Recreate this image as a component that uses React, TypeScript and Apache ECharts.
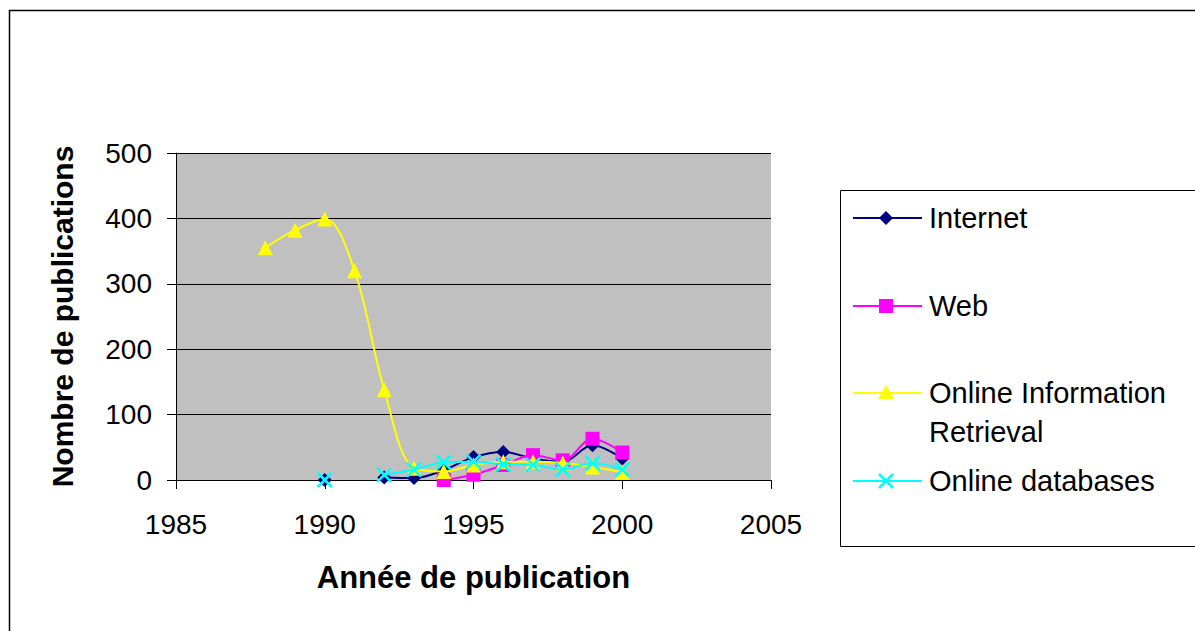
import React, { useEffect, useRef } from "react";
import * as echarts from "echarts";

const years = [1988, 1989, 1990, 1991, 1992, 1993, 1994, 1995, 1996, 1997, 1998, 1999, 2000];
const internet = [null, null, 0, null, 4, 3, 15, 35, 43, 33, 28, 53, 33];
const web = [null, null, null, null, null, null, 0, 8, 23, 38, 30, 63, 42];
const oir = [355, 382, 399, 320, 138, 18, 13, 23, 28, 28, 26, 20, 12];
const onlineDb = [null, null, 0, null, 8, 16, 27, 28, 24, 23, 16, 26, 16];
const seriesNames = ["Internet", "Web", "Online Information\nRetrieval", "Online databases"];
const seriesColors = ["#000080", "#FF00FF", "#FFFF00", "#00FFFF"];
const xTicks = [1985, 1990, 1995, 2000, 2005];
const yTicks = [0, 100, 200, 300, 400, 500];

const FONT = "'Liberation Sans', Arial, sans-serif";

function pairs(vals: (number | null)[]) {
  return years.map((y, i) => [y, vals[i] === null ? null : vals[i]]);
}

export default function App() {
  const ref = useRef<HTMLDivElement>(null);
  useEffect(() => {
    const chart = echarts.init(ref.current!, null, { renderer: "svg" });
    const crossPath = "path://M0,0 L10,10 M10,0 L0,10";
    const symbols = ["diamond", "rect", "triangle", crossPath];
    const sizes = [14, 14, 15, 14];
    const datas = [internet, web, oir, onlineDb];

    const series: any[] = datas.map((d, i) => ({
      type: "line",
      name: seriesNames[i],
      data: pairs(d),
      smooth: 0.35,
      connectNulls: false,
      symbol: symbols[i],
      symbolSize: sizes[i],
      showAllSymbol: true,
      lineStyle: { color: seriesColors[i], width: 2 },
      itemStyle:
        i === 3
          ? { color: "none", borderColor: seriesColors[i], borderWidth: 2.5 }
          : { color: seriesColors[i], borderColor: seriesColors[i], borderWidth: 0 },
      z: 2 + i,
    }));

    // legend graphics
    const lx0 = 853, lx1 = 922, sx = 886, tx = 929;
    const rows = [218, 306, 393, 481];
    const legendEls: any[] = [
      {
        type: "rect",
        shape: { x: 840.5, y: 190.5, width: 400, height: 356 },
        style: { fill: "#fff", stroke: "#000", lineWidth: 1 },
        z: 10,
      },
    ];
    rows.forEach((ry, i) => {
      legendEls.push({
        type: "line",
        shape: { x1: lx0, y1: ry, x2: lx1, y2: ry },
        style: { stroke: seriesColors[i], lineWidth: 2 },
        z: 11,
      });
      if (i === 0) {
        legendEls.push({
          type: "polygon",
          shape: { points: [[sx, ry - 7], [sx + 7, ry], [sx, ry + 7], [sx - 7, ry]] },
          style: { fill: seriesColors[i] },
          z: 12,
        });
      } else if (i === 1) {
        legendEls.push({
          type: "rect",
          shape: { x: sx - 7, y: ry - 7, width: 14, height: 14 },
          style: { fill: seriesColors[i] },
          z: 12,
        });
      } else if (i === 2) {
        legendEls.push({
          type: "polygon",
          shape: { points: [[sx, ry - 8], [sx + 8, ry + 6], [sx - 8, ry + 6]] },
          style: { fill: seriesColors[i] },
          z: 12,
        });
      } else {
        legendEls.push({
          type: "line",
          shape: { x1: sx - 7, y1: ry - 7, x2: sx + 7, y2: ry + 7 },
          style: { stroke: seriesColors[i], lineWidth: 2.5 },
          z: 12,
        });
        legendEls.push({
          type: "line",
          shape: { x1: sx + 7, y1: ry - 7, x2: sx - 7, y2: ry + 7 },
          style: { stroke: seriesColors[i], lineWidth: 2.5 },
          z: 12,
        });
      }
      seriesNames[i].split("\n").forEach((line, j) => {
        legendEls.push({
          type: "text",
          x: tx,
          y: ry + j * 39,
          style: {
            text: line,
            fill: "#000",
            font: `29px ${FONT}`,
            textVerticalAlign: "middle",
            textAlign: "left",
          },
          z: 12,
        });
      });
    });

    chart.setOption({
      animation: false,
      backgroundColor: "#fff",
      grid: { left: 176, top: 153, width: 595, height: 327, show: true, backgroundColor: "#C0C0C0", borderWidth: 0 },
      xAxis: {
        type: "value",
        min: xTicks[0],
        max: xTicks[xTicks.length - 1],
        interval: 5,
        axisLine: { show: true, onZero: false, lineStyle: { color: "#000", width: 1 } },
        axisTick: { show: true, length: 9, inside: false, lineStyle: { color: "#000" } },
        splitLine: { show: false },
        axisLabel: { color: "#000", fontFamily: FONT, fontSize: 28, margin: 30, formatter: (v: number) => String(v) },
        name: "Année de publication",
        nameLocation: "middle",
        nameGap: 82,
        nameTextStyle: { color: "#000", fontFamily: FONT, fontSize: 31, fontWeight: "bold" },
      },
      yAxis: {
        type: "value",
        min: yTicks[0],
        max: yTicks[yTicks.length - 1],
        interval: 100,
        axisLine: { show: true, lineStyle: { color: "#000", width: 1 } },
        axisTick: { show: true, length: 9, lineStyle: { color: "#000" } },
        splitLine: { show: true, lineStyle: { color: "#000", width: 1 } },
        axisLabel: { color: "#000", fontFamily: FONT, fontSize: 28, margin: 24 },
        name: "Nombre de publications",
        nameLocation: "middle",
        nameGap: 114,
        nameTextStyle: { color: "#000", fontFamily: FONT, fontSize: 30, fontWeight: "bold", verticalAlign: "middle" },
      },
      series,
      graphic: [
        {
          type: "rect",
          shape: { x: 9.5, y: 10.5, width: 1400, height: 800 },
          style: { fill: "none", stroke: "#000", lineWidth: 1.5 },
          z: 20,
        },
        ...legendEls,
      ],
    });
    return () => chart.dispose();
  }, []);
  return <div ref={ref} style={{ width: 1195, height: 631, position: "absolute", left: 0, top: 0 }} />;
}
